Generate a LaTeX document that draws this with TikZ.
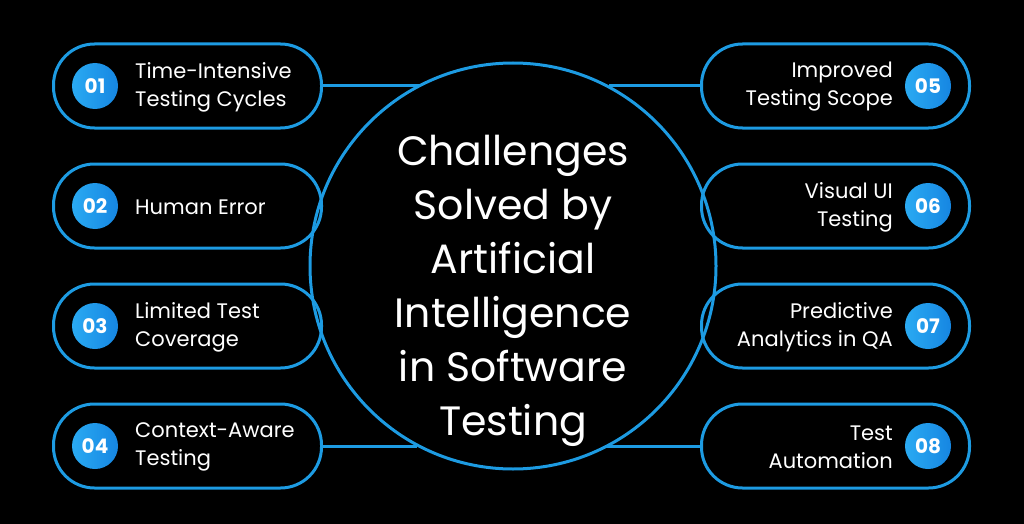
\documentclass[tikz,border=0pt]{standalone}
\usepackage{fontspec}
\setmainfont{Poppins}
\definecolor{lineblue}{HTML}{1D9BE2}
\definecolor{numlight}{HTML}{2AAAF2}
\definecolor{numdark}{HTML}{1686E2}
\begin{document}
\begin{tikzpicture}
		[x=1pt, y=-1pt,
		pill/.style={draw=lineblue, line width=3pt, rounded corners=41pt, minimum width=268pt, minimum height=84pt},
		num/.style={circle, left color=numlight, right color=numdark, text=white, minimum size=46pt, inner sep=0pt, font=\fontsize{20}{20}\selectfont\bfseries},
		txt/.style={text=white, inner sep=0pt, font=\fontsize{21}{28}\selectfont},
		hub/.style={circle, draw=lineblue, line width=3pt, minimum size=406pt},
		conn/.style={draw=lineblue, line width=3pt},
		]
		\fill[black] (0,0) rectangle (1024,524);
		\useasboundingbox (0,0) rectangle (1024,524);

		% linke Seite
		\node[pill] (p1) at (187.5,86) {};
		\node[pill] (p2) at (187.5,206) {};
		\node[pill] (p3) at (187.5,326) {};
		\node[pill] (p4) at (187.5,446) {};
		% rechte Seite
		\node[pill] (p5) at (835.5,86) {};
		\node[pill] (p6) at (835.5,206) {};
		\node[pill] (p7) at (835.5,326) {};
		\node[pill] (p8) at (835.5,446) {};

		\node[hub] (hub) at (513,266) {};
		\node[text=white, align=center, font=\fontsize{41}{54}\selectfont] (title) at (513,291)
			{Challenges\\Solved by\\Artificial\\Intelligence\\in Software\\Testing};

		\draw[conn] (p1.east) -- (hub.117.5 |- p1.east);
		\draw[conn] (p4.east) -- (hub.242.5 |- p4.east);
		\draw[conn] (p5.west) -- (hub.62.5 |- p5.west);
		\draw[conn] (p8.west) -- (hub.297.5 |- p8.west);

		\node[num] (n1) at (95,86) {01};
		\node[num] (n2) at (95,206) {02};
		\node[num] (n3) at (95,326) {03};
		\node[num] (n4) at (95,446) {04};
		\node[num] (n5) at (928,86) {05};
		\node[num] (n6) at (928,206) {06};
		\node[num] (n7) at (928,326) {07};
		\node[num] (n8) at (928,446) {08};

		\node[txt, align=left, anchor=west] (t1) at (135,87) {Time-Intensive\\Testing Cycles};
		\node[txt, align=left, anchor=west] (t2) at (135,207) {Human Error};
		\node[txt, align=left, anchor=west] (t3) at (135,327) {Limited Test\\Coverage};
		\node[txt, align=left, anchor=west] (t4) at (135,447) {Context-Aware\\Testing};
		\node[txt, align=right, anchor=east] (t5) at (893,87) {Improved\\Testing Scope};
		\node[txt, align=right, anchor=east] (t6) at (893,207) {Visual UI\\Testing};
		\node[txt, align=right, anchor=east] (t7) at (893,327) {Predictive\\Analytics in QA};
		\node[txt, align=right, anchor=east] (t8) at (893,447) {Test\\Automation};
	\end{tikzpicture}
\end{document}
